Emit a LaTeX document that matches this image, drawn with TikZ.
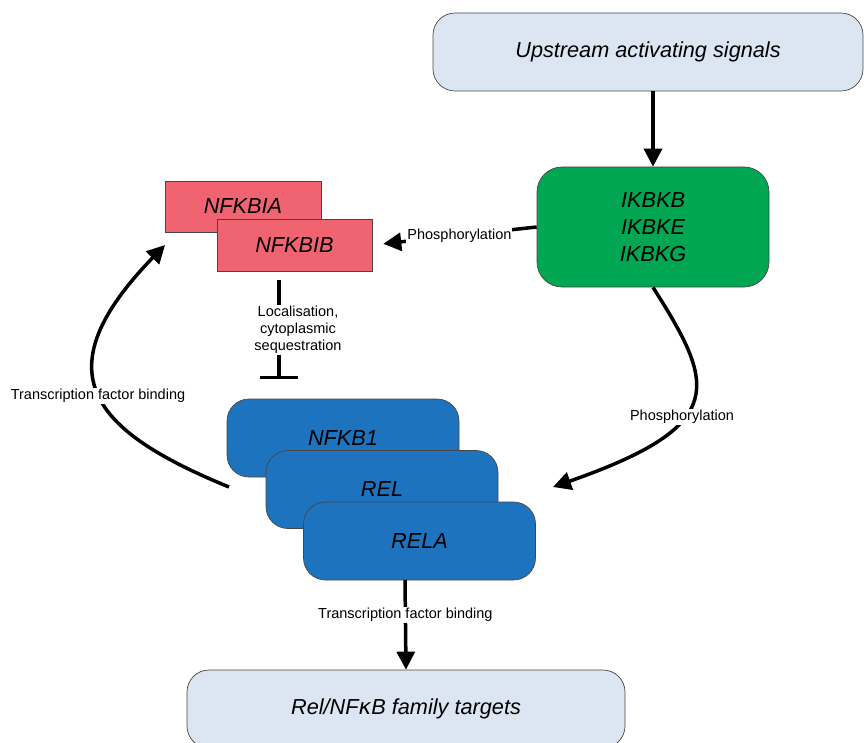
\documentclass[tikz,border=0pt]{standalone}
\usepackage{fontspec}
\setmainfont{Liberation Sans}
\usetikzlibrary{arrows.meta}
\definecolor{signalblue}{RGB}{220,230,242}
\definecolor{kinasegreen}{RGB}{0,166,81}
\definecolor{inhibpink}{RGB}{239,100,112}
\definecolor{relblue}{RGB}{30,115,190}
\definecolor{edgegray}{RGB}{70,70,70}

\begin{document}
\begin{tikzpicture}[x=1pt, y=-1pt,
	box/.style={draw=edgegray, line width=0.7pt, inner sep=0pt, align=center,
		font=\fontsize{21.7}{26.7}\selectfont\itshape},
	lbl/.style={fill=white, inner sep=1pt, align=center,
		font=\fontsize{14.5}{17}\selectfont},
	link/.style={line width=3.5pt, -{Triangle[length=18pt, width=18pt]}}]
	\useasboundingbox (0,0) rectangle (864,743);
	
	% boxes
	\node[box, fill=signalblue, rounded corners=22pt, minimum width=430pt, minimum height=78pt] (ups) at (648,52) {Upstream activating signals};
	\node[box, fill=kinasegreen, rounded corners=25pt, minimum width=232pt, minimum height=120pt] (ikk) at (653,227) {IKBKB\\IKBKE\\IKBKG};
	\node[box, fill=inhibpink, minimum width=156pt, minimum height=51pt] (nfkbia) at (243,206.5) {NFKBIA};
	\node[box, fill=inhibpink, minimum width=155pt, minimum height=52pt] (nfkbib) at (294.5,245) {NFKBIB};
	\foreach \name/\x/\y/\txt in {nfkb1/343/438/NFKB1, rel/382/489.5/REL, rela/419.5/541/RELA}
	{
		\node[box, fill=relblue, rounded corners=22pt, minimum width=232pt, minimum height=78pt] (\name) at (\x,\y) {\txt};
	}
	\node[box, fill=signalblue, rounded corners=22pt, minimum width=438pt, minimum height=78pt] (targets) at (406,709) {Rel/NF\textsf{\fontspec{DejaVu Sans}\itshape κ}B family targets};
	
	% free ends
	\coordinate (seqtop) at (279,280);
	\coordinate (seqend) at (279,379);
	\coordinate (bindtop) at (405,580);
	\coordinate (tfstart) at (229,487);
	\coordinate (tfend) at (165,245);
	\coordinate (phend) at (553,487);
	
	% connectors
	\draw[link] (ikk.north |- ups.south) -- (ikk.north);
	\draw[link, shorten >=11pt] (ikk.west) -- node[lbl, pos=0.47] {Phosphorylation} (nfkbib.east);
	\draw[line width=3.5pt, -{Bar[width=38pt]}] (seqtop) -- (seqend);
	\node[lbl] (seqlbl) at (298,330) {Localisation,\\cytoplasmic\\sequestration};
	\draw[link] (bindtop) -- node[lbl, pos=0.39] {Transcription factor binding} (targets.north);
	\draw[link] (tfstart) .. controls (90,430) and (42,372) .. (tfend);
	\node[lbl] (tflbl) at (98,396) {Transcription factor binding};
	\draw[link] (ikk.south) .. controls (715,385) and (730,425) .. (phend);
	\node[lbl] (phlbl) at (682,417) {Phosphorylation};
\end{tikzpicture}
\end{document}
